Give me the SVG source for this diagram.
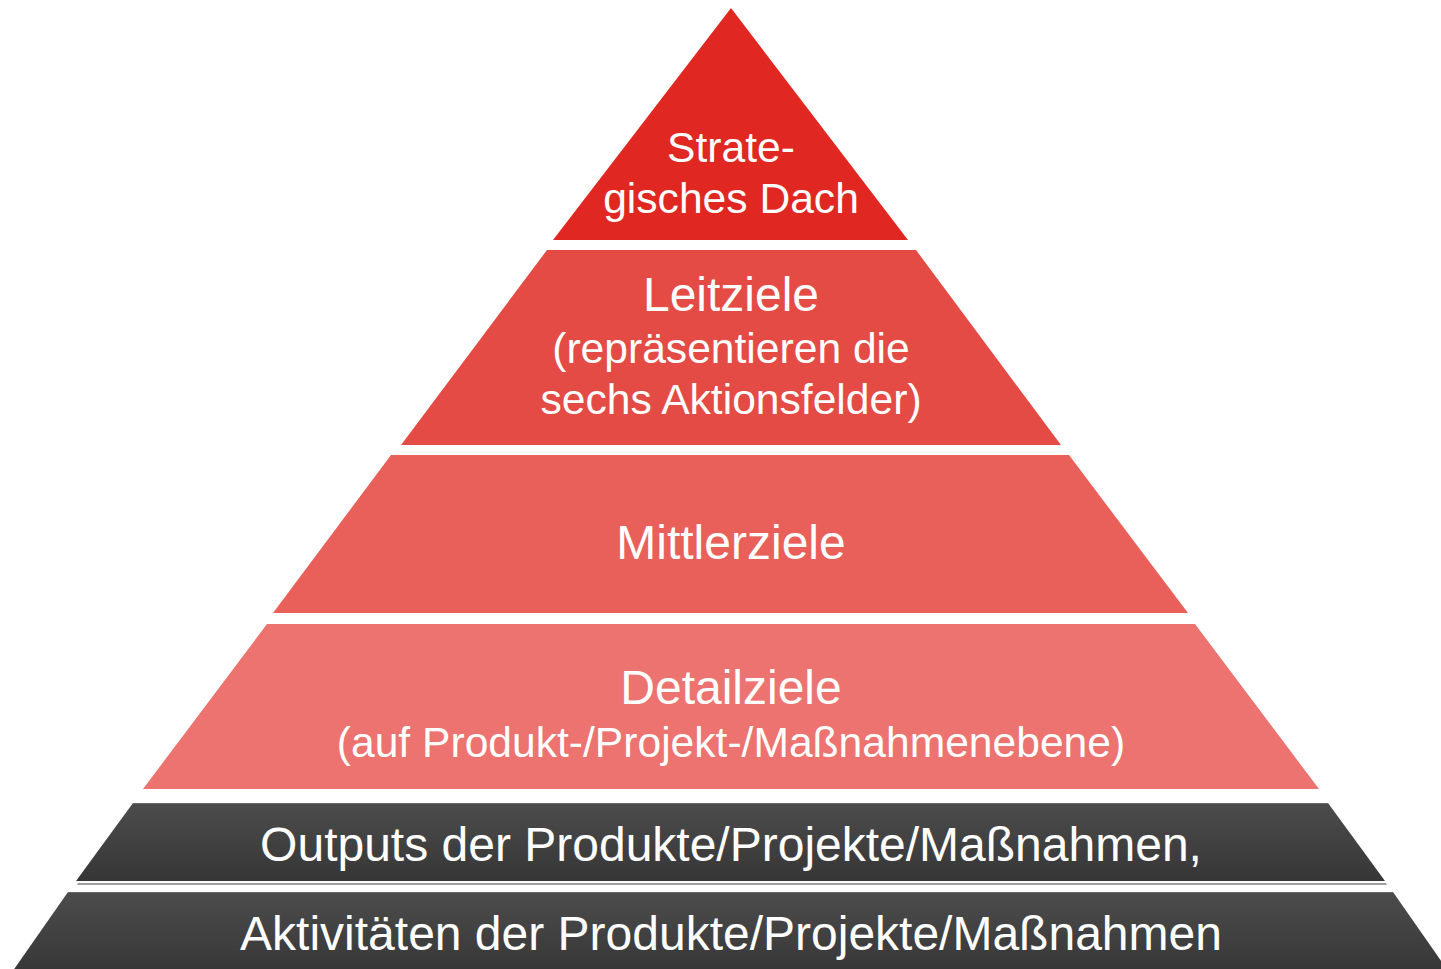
<svg xmlns="http://www.w3.org/2000/svg" width="1441" height="969" viewBox="0 0 1441 969">
<defs>
<linearGradient id="dark" x1="0" y1="0" x2="0" y2="1">
<stop offset="0" stop-color="#4c4c4c"/>
<stop offset="1" stop-color="#363636"/>
</linearGradient>
<style>
text{font-family:"Liberation Sans",Arial,sans-serif;fill:#ffffff;text-anchor:middle}
.h{font-size:48px}
.s{font-size:42.6px}
.d{font-size:48px}
</style>
</defs>
<rect width="1441" height="969" fill="#ffffff"/>
<g id="dach">
<polygon points="731,8 553,240 908,240" fill="#e12721"/>
<text class="s" x="731" y="162">Strate-</text>
<text class="s" x="731" y="213">gisches Dach</text>
</g>
<g id="leitziele">
<polygon points="547,250 916,250 1061,445 401,445" fill="#e54b45"/>
<text class="h" x="731" y="311">Leitziele</text>
<text class="s" x="731" y="363">(repräsentieren die</text>
<text class="s" x="731" y="414">sechs Aktionsfelder)</text>
</g>
<g id="mittlerziele">
<polygon points="391,455 1069,455 1188,613 273,613" fill="#e95f5a"/>
<text class="h" x="731" y="559">Mittlerziele</text>
</g>
<g id="detailziele">
<polygon points="267,624 1195,624 1319,789 143,789" fill="#ec736f"/>
<text class="h" x="731" y="704">Detailziele</text>
<text class="s" x="731" y="757">(auf Produkt-/Projekt-/Maßnahmenebene)</text>
</g>
<g id="outputs">
<polygon points="78,883 1386,883 1387,885 77,885" fill="#a0a0a0"/>
<polygon points="133,803 1328,803 1385,881 76,881" fill="url(#dark)"/>
<line x1="133" y1="803.5" x2="1328" y2="803.5" stroke="#6a6a6a" stroke-width="1"/>
<text class="d" x="731" y="861">Outputs der Produkte/Projekte/Maßnahmen,</text>
</g>
<g id="aktivitaeten">
<polygon points="68,892 1393,892 1451,975 10,975" fill="url(#dark)"/>
<line x1="68" y1="892.5" x2="1393" y2="892.5" stroke="#6a6a6a" stroke-width="1"/>
<text class="d" x="731" y="950">Aktivitäten der Produkte/Projekte/Maßnahmen</text>
</g>
<g id="connectors"/>
</svg>
